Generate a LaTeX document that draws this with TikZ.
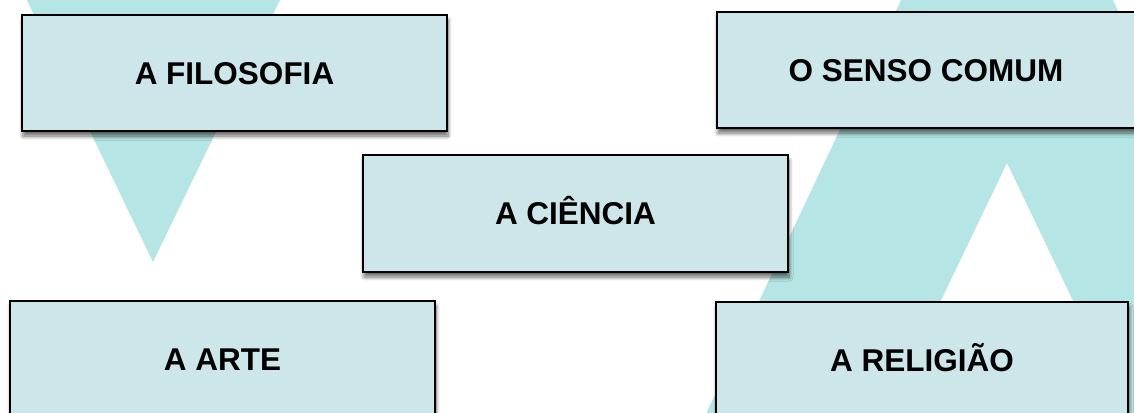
\documentclass[tikz,border=0pt]{standalone}
\usepackage{fontspec}
\setmainfont{Liberation Sans}
\usetikzlibrary{shadows.blur}
\definecolor{tealbg}{HTML}{B5E5E4}
\definecolor{boxfill}{HTML}{CDE6EA}
\tikzset{
  card/.style={draw=black, line width=2.7pt, fill=boxfill, minimum height=116pt,
    text height=22.5pt, text depth=0pt, inner sep=0pt,
    font=\fontsize{31.5}{38}\selectfont\bfseries,
    blur shadow={shadow xshift=1pt, shadow yshift=-5pt, shadow blur steps=8, shadow blur radius=4pt, shadow opacity=60}},
  bgshape/.style={fill=tealbg, draw=none}
}
\begin{document}
\begin{tikzpicture}[x=1pt,y=-1pt]
\useasboundingbox (0,0) rectangle (1134,412);
% background shapes
\fill[bgshape] (22,-10) -- (284.8,-10) -- (153,262) -- cycle;
\fill[bgshape, even odd rule] (903.4,-5) -- (1110.6,-5) -- (1310,420) -- (703,420) -- cycle
  (1007,163) -- (1087,330) -- (926.8,330) -- cycle;
% cards
\node[card, minimum width=425pt] (filo) at (234.5,73) {A FILOSOFIA};
\node[card, minimum width=418pt] (senso) at (926,70) {O SENSO COMUM};
\node[card, minimum width=425pt, minimum height=117pt] (cien) at (575.5,213.5) {A CIÊNCIA};
\node[card, minimum width=425pt] (arte) at (222.5,359) {A ARTE};
\node[card, minimum width=412pt] (reli) at (922,360) {A RELIGIÃO};
\end{tikzpicture}
\end{document}
